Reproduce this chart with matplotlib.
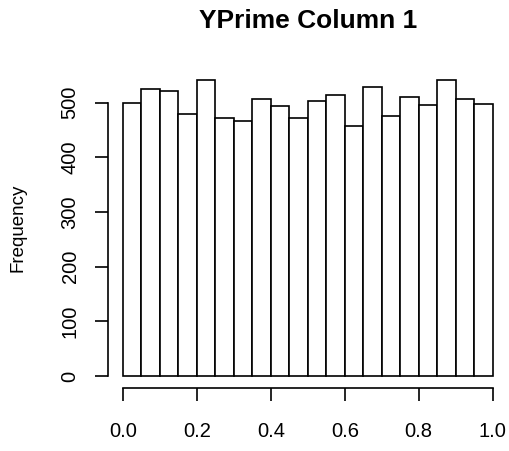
import numpy as np
from matplotlib import pyplot as plt

plt.rcParams['font.family'] = ['Liberation Sans', 'DejaVu Sans']

# histogram of 20 equal bins over [0, 1]
bin_lo = 0.0
bin_hi = 1.0
counts = [499, 525, 522, 480, 541, 473, 467, 507, 495, 473,
          504, 514, 458, 529, 476, 511, 496, 541, 507, 498]
x_ticks = [0.0, 0.2, 0.4, 0.6, 0.8, 1.0]
y_ticks = [0, 100, 200, 300, 400, 500]

edges = np.linspace(bin_lo, bin_hi, len(counts) + 1)

fig = plt.figure(figsize=(5.1, 4.51), dpi=100)
ax = fig.add_axes([0.212, 0.140, 0.783, 0.708])
ax.bar(edges[:-1], counts, width=np.diff(edges), align='edge',
       color='white', edgecolor='black', linewidth=1.2)

top = max(counts)
ax.set_xlim(bin_lo - 0.04 * (bin_hi - bin_lo), bin_hi + 0.04 * (bin_hi - bin_lo))
ax.set_ylim(-0.04 * top, 1.04 * top)

for s in ['top', 'right']:
    ax.spines[s].set_visible(False)
ax.spines['left'].set_bounds(y_ticks[0], y_ticks[-1])
ax.spines['bottom'].set_bounds(x_ticks[0], x_ticks[-1])
ax.spines['left'].set_linewidth(1.2)
ax.spines['bottom'].set_linewidth(1.2)

ax.set_xticks(x_ticks)
ax.set_xticklabels(['{:.1f}'.format(v) for v in x_ticks])
ax.set_yticks(y_ticks)
ax.set_yticklabels([str(v) for v in y_ticks], rotation=90, va='center')
ax.tick_params(axis='both', length=9.5, width=1.2, labelsize=14.5)
ax.tick_params(axis='x', pad=15)
ax.tick_params(axis='y', pad=11)

ax.set_ylabel('Frequency', fontsize=13.5)
ax.yaxis.set_label_coords(-0.205, 0.5)
ax.set_title('YPrime Column 1', fontsize=19, fontweight='bold', pad=29)

plt.savefig('out.png', dpi=100)
